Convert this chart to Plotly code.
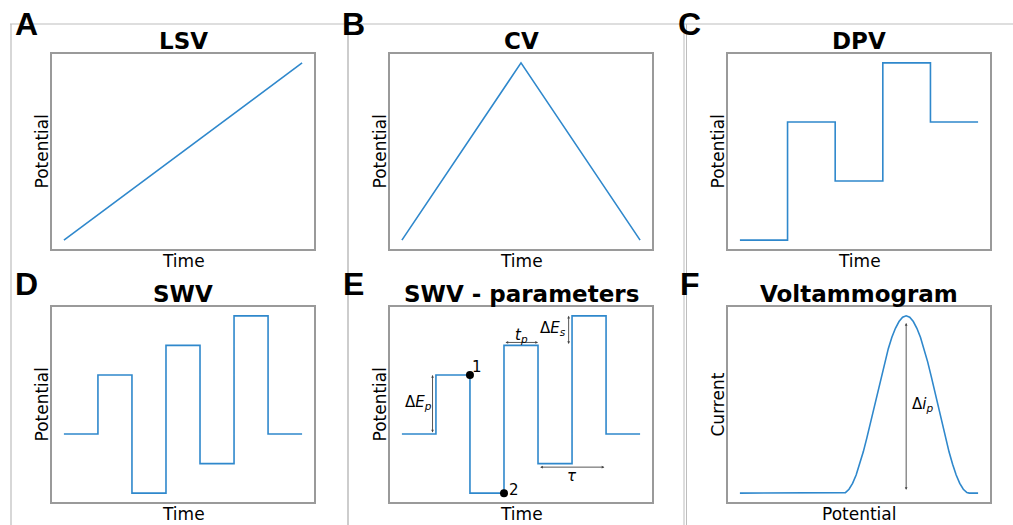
import plotly.graph_objects as go

W, H = 1013, 525

# ---- waveform data ----
lsv_time = [0, 1]
lsv_potential = [0, 1]

cv_time = [0, 0.5, 1]
cv_potential = [0, 1, 0]

dpv_time = [0, 1, 2, 3, 4, 5]
dpv_levels = [0, 2, 1, 3, 2]

swv_time = [0, 1, 2, 3, 4, 5, 6, 7]
swv_levels = [0, 2, -2, 3, -1, 4, 0]

volt_potential = [0.0, 0.433, 0.443, 0.458, 0.473, 0.488, 0.503, 0.518, 0.533,
                  0.548, 0.563, 0.578, 0.593, 0.608, 0.623, 0.638, 0.653, 0.668,
                  0.683, 0.698, 0.713, 0.728, 0.743, 0.758, 0.773, 0.788, 0.803,
                  0.818, 0.833, 0.848, 0.863, 0.878, 0.893, 0.908, 0.923, 0.938,
                  0.953, 0.963, 1.0]
volt_current = [0.0, 0.0, 0.003, 0.022, 0.055, 0.102, 0.163, 0.233, 0.312,
                0.397, 0.485, 0.574, 0.660, 0.742, 0.815, 0.879, 0.930, 0.968,
                0.992, 1.0, 0.992, 0.968, 0.930, 0.879, 0.815, 0.742, 0.660,
                0.574, 0.485, 0.397, 0.312, 0.233, 0.163, 0.102, 0.055, 0.022,
                0.003, 0.0, 0.0]

titles = ["LSV", "CV", "DPV", "SWV", "SWV - parameters", "Voltammogram"]
panel_letters = ["A", "B", "C", "D", "E", "F"]
x_labels = ["Time", "Time", "Time", "Time", "Time", "Potential"]
y_labels = ["Potential", "Potential", "Potential", "Potential", "Potential", "Current"]

BLUE = "#2f88cc"
FRAME = "#9a9a9a"
SEP = "#bdbdbd"


def step_points(edges, levels):
    xs = list(edges[:len(levels)]) + [edges[len(levels)]]
    ys = list(levels) + [levels[-1]]
    return xs, ys


def px(x):
    return x / W


def py(y):
    return 1 - y / H


# plot-area boxes in pixels: (left, right) per column, (top, bottom) per row
cols = [(52, 314), (390, 652), (728, 990)]
rows = [(54, 249), (307, 502)]

fig = go.Figure()

series = [
    (lsv_time, lsv_potential, "linear"),
    (cv_time, cv_potential, "linear"),
    (*step_points(dpv_time, dpv_levels), "hv"),
    (*step_points(swv_time, swv_levels), "hv"),
    (*step_points(swv_time, swv_levels), "hv"),
    (volt_potential, volt_current, "linear"),
]

ranges = [
    ([-0.05, 1.05], [-0.05, 1.05]),
    ([-0.05, 1.05], [-0.05, 1.05]),
    ([-0.25, 5.25], [-0.15, 3.15]),
    ([-0.35, 7.35], [-2.3, 4.3]),
    ([-0.35, 7.35], [-2.3, 4.3]),
    ([-0.05, 1.05], [-0.05, 1.05]),
]

annotations = []
layout_axes = {}
for i in range(6):
    r, c = divmod(i, 3)
    l, rgt = cols[c]
    t, b = rows[r]
    n = "" if i == 0 else str(i + 1)
    xs, ys, shape = series[i]
    fig.add_trace(go.Scatter(x=xs, y=ys, mode="lines",
                             line=dict(color=BLUE, width=1.6, shape=shape),
                             xaxis="x" + n, yaxis="y" + n, showlegend=False,
                             hoverinfo="skip"))
    ax_common = dict(showgrid=False, zeroline=False, showticklabels=False,
                     ticks="", showline=True, mirror=True, linecolor=FRAME,
                     linewidth=1.5)
    layout_axes["xaxis" + n] = dict(domain=[px(l), px(rgt)], range=ranges[i][0],
                                    anchor="y" + n, **ax_common)
    layout_axes["yaxis" + n] = dict(domain=[py(b), py(t)], range=ranges[i][1],
                                    anchor="x" + n, **ax_common)
    cx = (l + rgt) / 2
    # subplot title
    annotations.append(dict(text="<b>" + titles[i] + "</b>", x=px(cx), y=py(t - 13),
                            xref="paper", yref="paper", showarrow=False,
                            font=dict(family="DejaVu Sans", size=23, color="black"),
                            xanchor="center", yanchor="middle"))
    # axis labels
    annotations.append(dict(text=x_labels[i], x=px(cx), y=py(b + 12),
                            xref="paper", yref="paper", showarrow=False,
                            font=dict(family="DejaVu Sans", size=17, color="black"),
                            xanchor="center", yanchor="middle"))
    annotations.append(dict(text=y_labels[i], x=px(l - 11), y=py((t + b) / 2),
                            xref="paper", yref="paper", showarrow=False, textangle=-90,
                            font=dict(family="DejaVu Sans", size=17, color="black"),
                            xanchor="center", yanchor="middle"))

# panel letters
letter_pos = [(26, 24), (353, 24), (689, 24), (26, 284), (353, 284), (690, 284)]
for letter, (lx, ly) in zip(panel_letters, letter_pos):
    annotations.append(dict(text="<b>" + letter + "</b>", x=px(lx), y=py(ly),
                            xref="paper", yref="paper", showarrow=False,
                            font=dict(family="Liberation Sans", size=32, color="black"),
                            xanchor="center", yanchor="middle"))

ARROW = "#444444"


def double_arrow(x0, y0, x1, y1, xa, ya):
    return dict(x=x1, y=y1, ax=x0, ay=y0, xref=xa, yref=ya, axref=xa, ayref=ya,
                text="", showarrow=True, arrowside="end+start", arrowhead=2,
                arrowsize=0.6, arrowwidth=0.9, arrowcolor=ARROW,
                startarrowhead=2, startarrowsize=0.6, standoff=0, startstandoff=0)


def label(text, x, y, xa, ya, size=15, xanchor="center"):
    return dict(text=text, x=x, y=y, xref=xa, yref=ya, showarrow=False,
                font=dict(family="DejaVu Sans", size=size, color="black"),
                xanchor=xanchor, yanchor="middle")


# SWV parameter annotations (panel E) and peak current (panel F)
annotations += [
    double_arrow(0.9, 0, 0.9, 2, "x5", "y5"),
    label("Δ<i>E<sub>p</sub></i>", 0.5, 1.06, "x5", "y5"),
    double_arrow(3, 3.1, 4, 3.1, "x5", "y5"),
    label("<i>t<sub>p</sub></i>", 3.5, 3.35, "x5", "y5"),
    double_arrow(4.9, 3, 4.9, 4, "x5", "y5"),
    label("Δ<i>E<sub>s</sub></i>", 4.45, 3.58, "x5", "y5"),
    double_arrow(4.02, -1.12, 5.95, -1.12, "x5", "y5"),
    label("<i>τ</i>", 5.0, -1.42, "x5", "y5"),
    label("1", 2.22, 2.27, "x5", "y5"),
    label("2", 3.28, -1.88, "x5", "y5"),
    double_arrow(0.698, 0.01, 0.698, 0.96, "x6", "y6"),
    label("Δ<i>i<sub>p</sub></i>", 0.716, 0.5, "x6", "y6", xanchor="left"),
]

# sampling points 1 and 2
fig.add_trace(go.Scatter(x=[2, 3], y=[2, -2], mode="markers",
                         marker=dict(color="black", size=8),
                         xaxis="x5", yaxis="y5", showlegend=False, hoverinfo="skip"))

# separator lines between panels
shapes = [
    dict(type="line", xref="paper", yref="paper", x0=px(10), x1=1, y0=py(24), y1=py(24),
         line=dict(color=SEP, width=1.2)),
    dict(type="line", xref="paper", yref="paper", x0=px(11), x1=px(11), y0=py(24), y1=0,
         line=dict(color=SEP, width=1.2)),
    dict(type="line", xref="paper", yref="paper", x0=px(348), x1=px(348), y0=py(24), y1=0,
         line=dict(color=SEP, width=1.5)),
    dict(type="line", xref="paper", yref="paper", x0=px(684), x1=px(684), y0=py(24), y1=0,
         line=dict(color=SEP, width=1.0)),
    dict(type="line", xref="paper", yref="paper", x0=px(686.5), x1=px(686.5), y0=py(24), y1=0,
         line=dict(color=SEP, width=1.0)),
]

fig.update_layout(width=W, height=H, margin=dict(l=0, r=0, t=0, b=0),
                  paper_bgcolor="white", plot_bgcolor="white",
                  annotations=annotations, shapes=shapes, **layout_axes)

fig.write_html("out.html", config={"displayModeBar": False})
